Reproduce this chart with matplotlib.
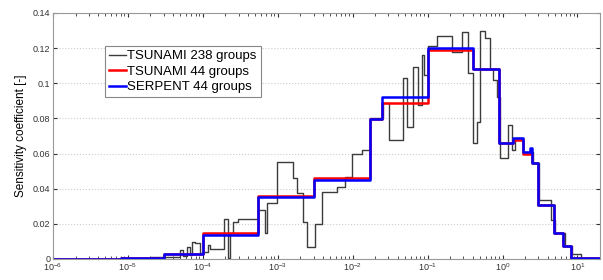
import matplotlib
matplotlib.use('Agg')
import matplotlib.pyplot as plt
import numpy as np
from matplotlib.ticker import LogLocator, NullFormatter

plt.rcParams['font.family'] = ['Liberation Sans', 'DejaVu Sans']
plt.rcParams['mathtext.default'] = 'regular'

# 44 group structure (MeV) and sensitivities
edges44 = [1e-6, 1.13e-6, 1.3e-6, 1.77e-6, 3e-6, 4.75e-6, 6e-6, 8.1e-6, 1.0125e-5,
           3e-5, 1e-4, 5.5e-4, 3e-3, 1.7e-2, 2.5e-2, 0.1, 0.4, 0.9, 1.4, 1.85,
           2.354, 2.479, 3.0, 4.8, 6.434, 8.187, 20.0]
tsunami44 = [0.0, 0.0, 0.0001, 0.0001, 0.0002, 0.0002, 0.0002, 0.0003, 0.0008,
             0.0028, 0.0150, 0.0358, 0.0460, 0.0797, 0.0887, 0.1190, 0.1080,
             0.0660, 0.0680, 0.0600, 0.0600, 0.0546, 0.0310, 0.0150, 0.0075,
             0.0008]
serpent44 = [0.0, 0.0, 0.0001, 0.0001, 0.0002, 0.0002, 0.0002, 0.0003, 0.0008,
             0.0028, 0.0137, 0.0353, 0.0452, 0.0797, 0.0922, 0.1200, 0.1080,
             0.0660, 0.0689, 0.0610, 0.0630, 0.0546, 0.0307, 0.0148, 0.0074,
             0.0008]

# 238 group
edges238 = [1e-6, 7.82e-6, 1.96e-5, 3e-5, 4.94e-5, 5.41e-5, 6.12e-5, 6.71e-5, 7.14e-5,
            7.82e-5, 9.12e-5, 1e-4, 1.17e-4, 1.24e-4, 1.91e-4, 2.15e-4, 2.29e-4,
            2.51e-4, 2.93e-4, 5.41e-4, 6.71e-4, 7.14e-4, 9.70e-4, 1.58e-3, 1.79e-3,
            2.15e-3, 2.44e-3, 3.11e-3, 3.86e-3, 6.12e-3, 7.82e-3, 9.70e-3, 1.32e-2,
            1.69e-2, 2.51e-2, 3.02e-2, 4.64e-2, 5.25e-2, 6.31e-2, 7.36e-2, 8.32e-2,
            8.84e-2, 0.1, 0.132, 0.209, 0.284, 0.341, 0.398, 0.450, 0.494, 0.575,
            0.671, 0.736, 0.832, 0.912, 1.166, 1.318, 1.445, 1.848, 2.59, 3.11,
            4.50, 5.09, 6.92, 8.58, 11.3, 20.0]
tsunami238 = [0.0002, 0.0007, 0.0010, 0.0012, 0.0050, 0.0015, 0.0070, 0.0020,
              0.0097, 0.0090, 0.0034, 0.0040, 0.0080, 0.0057, 0.0230, 0.0006,
              0.0150, 0.0210, 0.0230, 0.0280, 0.0150, 0.0320, 0.0550, 0.0460,
              0.0376, 0.0210, 0.0068, 0.0200, 0.0380, 0.0410, 0.0467, 0.0600,
              0.0620, 0.0800, 0.0890, 0.0680, 0.1030, 0.0750, 0.1090, 0.0877,
              0.1160, 0.1050, 0.1210, 0.1270, 0.1180, 0.1290, 0.1060, 0.0660,
              0.0780, 0.1300, 0.1260, 0.1080, 0.1020, 0.0920, 0.0575, 0.0760,
              0.0620, 0.0690, 0.0610, 0.0546, 0.0336, 0.0220, 0.0148, 0.0074,
              0.0028, 0.0]

fig = plt.figure(figsize=(6.03, 2.8), dpi=100)
ax = fig.add_axes([53/603, 21/280, 547/603, 246/280])

ax.step(edges238, tsunami238 + [tsunami238[-1]], where='post', color='#3c3c3c',
        lw=1.0, label='TSUNAMI 238 groups')
ax.step(edges44, tsunami44 + [tsunami44[-1]], where='post', color='#ff0000',
        lw=1.8, label='TSUNAMI 44 groups')
ax.step(edges44, serpent44 + [serpent44[-1]], where='post', color='#0000ff',
        lw=1.8, label='SERPENT 44 groups')

ax.set_xscale('log')
ax.set_xlim(1e-6, 20)
ax.set_ylim(0, 0.14)
ax.set_yticks(np.arange(0, 0.141, 0.02))
ax.set_yticklabels(['0', '0.02', '0.04', '0.06', '0.08', '0.1', '0.12', '0.14'])
ax.xaxis.set_major_locator(LogLocator(base=10, numticks=20))
ax.xaxis.set_minor_locator(LogLocator(base=10, subs=np.arange(2, 10), numticks=50))
ax.xaxis.set_minor_formatter(NullFormatter())
ax.tick_params(which='both', direction='in', top=True, right=True,
               labelsize=6.5, colors='#333333', pad=2)
ax.tick_params(which='major', length=3)
ax.tick_params(which='minor', length=2)
ax.yaxis.grid(True, ls=':', color='#cccccc', lw=0.8)
for s in ax.spines.values():
    s.set_color('#999999')
    s.set_linewidth(0.8)

ax.set_ylabel('Sensitivity coefficient [-]', fontsize=8.5, labelpad=4)

leg = ax.legend(loc='upper left', bbox_to_anchor=(0.095, 0.866), borderaxespad=0,
                fontsize=9.5, handlelength=1.3, handletextpad=0.1,
                labelspacing=0.25, fancybox=False, framealpha=1,
                borderpad=0.3)
leg.get_frame().set_edgecolor('#888888')
leg.get_frame().set_linewidth(0.8)

plt.savefig('out.png', dpi=100)
